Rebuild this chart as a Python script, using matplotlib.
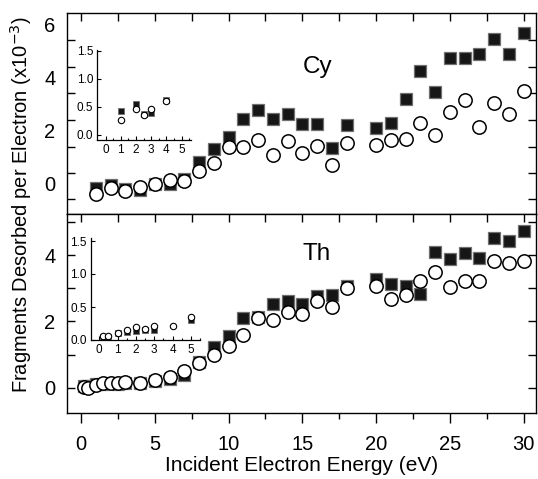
import numpy as np
import matplotlib
matplotlib.use("Agg")
import matplotlib.pyplot as plt
from matplotlib.ticker import FixedLocator

plt.rcParams['font.family'] = ['Liberation Sans', 'DejaVu Sans']

# ---------------- data ----------------
# Cy (top panel), main plot
cy_E = [1, 2, 3, 4, 5, 6, 7, 8, 9, 10, 11, 12, 13, 14, 15, 16, 17, 18,
        20, 21, 22, 23, 24, 25, 26, 27, 28, 29, 30]
cy_sq = [-0.14, -0.05, -0.20, -0.24, 0.00, 0.01, 0.20, 0.81, 1.32, 1.76, 2.46, 2.80,
         2.43, 2.65, 2.27, 2.27, 1.36, 2.24, 2.11, 2.30, 3.19, 4.27, 3.47, 4.77, 4.77,
         4.92, 5.46, 4.92, 5.71]
cy_ci = [-0.37, -0.16, -0.27, -0.11, -0.01, 0.14, 0.11, 0.49, 0.79, 1.38, 1.38, 1.66,
         1.09, 1.61, 1.15, 1.42, 0.72, 1.55, 1.48, 1.66, 1.70, 2.29, 1.86, 2.71, 3.15,
         2.14, 3.05, 2.65, 3.51]

# Cy inset
cyi_E_sq = [1, 2, 2.5, 3, 4]
cyi_sq = [0.42, 0.55, 0.37, 0.39, 0.63]
cyi_E_ci = [1, 2, 2.5, 3, 4]
cyi_ci = [0.27, 0.47, 0.36, 0.47, 0.61]

# Th (bottom panel), main plot
th_E = [0.2, 0.5, 1, 1.5, 2, 2.5, 3, 4, 5, 6, 7, 8, 9, 10, 11, 12, 13, 14, 15, 16, 17, 18,
        20, 21, 22, 23, 24, 25, 26, 27, 28, 29, 30]
th_sq = [0.05, 0.04, 0.10, 0.12, 0.15, 0.12, 0.14, 0.13, 0.20, 0.28, 0.38, 0.78, 1.23,
         1.56, 2.11, 2.12, 2.52, 2.62, 2.52, 2.77, 2.79, 3.06, 3.29, 3.12, 3.07, 2.84,
         4.10, 3.87, 4.07, 3.90, 4.52, 4.43, 4.72]
th_ci = [0.03, 0.00, 0.08, 0.13, 0.15, 0.13, 0.16, 0.15, 0.23, 0.33, 0.51, 0.75, 0.98,
         1.26, 1.58, 2.09, 2.04, 2.29, 2.21, 2.61, 2.44, 3.02, 3.07, 2.69, 2.79, 3.21,
         3.49, 3.04, 3.21, 3.21, 3.82, 3.77, 3.82]

# Th inset
thi_E_sq = [0.2, 0.5, 1, 1.5, 2, 2.5, 3, 5]
thi_sq = [0.05, 0.05, 0.10, 0.12, 0.13, 0.15, 0.15, 0.30]
thi_E_ci = [0.2, 0.5, 1, 1.5, 2, 2.5, 3, 4, 5]
thi_ci = [0.06, 0.06, 0.10, 0.15, 0.19, 0.17, 0.21, 0.21, 0.35]

x_major = [0, 5, 10, 15, 20, 25, 30]
x_minor = [2.5, 7.5, 12.5, 17.5, 22.5, 27.5]
top_ylabels = [0, 2, 4, 6]
top_yticks = [-0.57, 0.40, 1.40, 2.41, 3.42, 4.43, 5.45]
bot_ylabels = [0, 2, 4]
bot_yticks = [1, 3, 5]

# ---------------- figure ----------------
W, H = 538, 479
fig = plt.figure(figsize=(W / 100, H / 100), dpi=100)

def fx(px):
    return px / W

def fy(py):
    return 1 - py / H

L, R = 66.7, 535.5
T1, MID, B2 = 13.3, 214.0, 413.0
ax1 = fig.add_axes([fx(L), fy(MID), fx(R - L), (MID - T1) / H])
ax2 = fig.add_axes([fx(L), fy(B2), fx(R - L), (B2 - MID) / H])

sq_kw = dict(linestyle='none', marker='s', markersize=9.0, markerfacecolor='#161616',
             markeredgecolor='#707070', markeredgewidth=0.9)
ci_kw = dict(linestyle='none', marker='o', markersize=9.6, markerfacecolor='white',
             markeredgecolor='black', markeredgewidth=1.1)

TFS = 14.5

for ax in (ax1, ax2):
    ax.set_xlim(-0.97, 30.8)
    for s in ax.spines.values():
        s.set_linewidth(1.0)

ax1.plot(cy_E, cy_sq, **sq_kw)
ax1.plot(cy_E, cy_ci, **ci_kw)
ax1.set_ylim(-1.14, 6.44)

ax2.plot(th_E, th_sq, **sq_kw)
ax2.plot(th_E, th_ci, **ci_kw)
ax2.set_ylim(-0.76, 5.24)

# ticks top panel
ax1.xaxis.set_major_locator(FixedLocator(x_major))
ax1.xaxis.set_minor_locator(FixedLocator(x_minor))
ax1.tick_params(axis='x', which='both', direction='in', top=True, bottom=False,
                labelbottom=False, length=6, width=1)
ax1.yaxis.set_major_locator(FixedLocator(top_ylabels))
ax1.yaxis.set_minor_locator(FixedLocator(top_yticks))
ax1.tick_params(axis='y', which='major', length=0, labelsize=TFS, pad=8)
ax1.tick_params(axis='y', which='minor', direction='in', left=True, right=True,
                length=6, width=1)

# ticks bottom panel
ax2.xaxis.set_major_locator(FixedLocator(x_major))
ax2.xaxis.set_minor_locator(FixedLocator(x_minor))
ax2.tick_params(axis='x', which='major', direction='out', top=False, bottom=True,
                length=7, width=1, labelsize=TFS, pad=9)
ax2.tick_params(axis='x', which='minor', direction='out', bottom=True, length=4.5, width=1)
ax2.yaxis.set_major_locator(FixedLocator(bot_ylabels))
ax2.yaxis.set_minor_locator(FixedLocator(bot_yticks))
ax2.tick_params(axis='y', which='both', direction='in', left=True, right=True,
                length=6, width=1, labelsize=TFS, pad=8)
# top ticks of bottom panel (pointing down into the panel)
sec = ax2.secondary_xaxis('top')
sec.xaxis.set_major_locator(FixedLocator(x_major + x_minor))
sec.tick_params(direction='in', length=6, width=1, labeltop=False)
sec.spines['top'].set_visible(False)

ax2.set_xlabel('Incident Electron Energy (eV)', fontsize=15, labelpad=1)
fig.text(fx(21), fy(205), 'Fragments Desorbed per Electron (x10$^{-3}$)', rotation=90,
         ha='center', va='center', fontsize=14.5)

ax1.text(16.0, 4.4, 'Cy', fontsize=17.5, ha='center', va='center')
ax2.text(16.0, 4.04, 'Th', fontsize=17.5, ha='center', va='center')

# ---------------- insets ----------------
isq_kw = dict(linestyle='none', marker='s', markersize=4.0, markerfacecolor='#161616',
              markeredgecolor='#707070', markeredgewidth=0.6)
ici_kw = dict(linestyle='none', marker='o', markersize=4.6, markerfacecolor='white',
              markeredgecolor='black', markeredgewidth=0.8)

def style_inset(ax):
    for s in ('top', 'right'):
        ax.spines[s].set_visible(False)
    for s in ('left', 'bottom'):
        ax.spines[s].set_linewidth(0.9)
    ax.set_xticks([0, 1, 2, 3, 4, 5])
    ax.set_xticks(np.arange(0, 5.6, 0.5), minor=True)
    ax.set_yticks([0.0, 0.5, 1.0, 1.5])
    ax.set_yticklabels(['0.0', '0.5', '1.0', '1.5'])
    ax.tick_params(which='both', direction='in', labelsize=8.5, pad=3)
    ax.tick_params(which='major', length=3, width=0.8)
    ax.tick_params(which='minor', length=1.8, width=0.8)
    ax.patch.set_alpha(0)

# Cy inset
ia1 = fig.add_axes([fx(97.3), fy(140), fx(190.7 - 97.3), (140 - 50) / H])
ia1.plot(cyi_E_sq, cyi_sq, **isq_kw)
ia1.plot(cyi_E_ci, cyi_ci, **ici_kw)
ia1.set_xlim(-0.55, 5.6)
ia1.set_ylim(-0.09, 1.51)
style_inset(ia1)

# Th inset
ia2 = fig.add_axes([fx(90.7), fy(340), fx(200 - 90.7), (340 - 237.7) / H])
ia2.plot(thi_E_sq, thi_sq, **isq_kw)
ia2.plot(thi_E_ci, thi_ci, **ici_kw)
ia2.set_xlim(-0.47, 5.5)
ia2.set_ylim(0.0, 1.55)
style_inset(ia2)

fig.savefig('out.png', dpi=100)
